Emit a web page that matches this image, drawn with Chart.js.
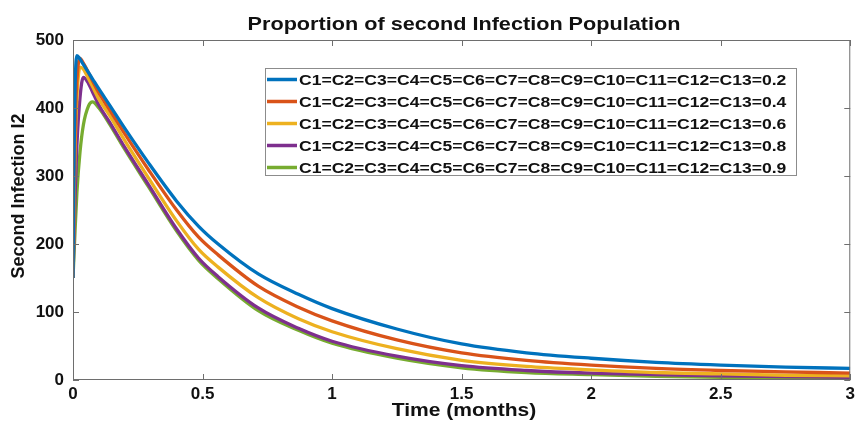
<!DOCTYPE html>
<html>
<head>
<meta charset="utf-8">
<title>Proportion of second Infection Population</title>
<script src="https://cdn.jsdelivr.net/npm/chart.js@4.4.1/dist/chart.umd.min.js"></script>
<style>
  html, body { margin: 0; padding: 0; background: #fff; }
  #wrap { width: 859px; height: 430px; position: relative; }
</style>
</head>
<body>
<div id="wrap"><canvas id="i2-chart"></canvas></div>
<script>
/* ─── data: time grid (months) and I2 per parameter value ─── */
const TIME = [0, 0.004, 0.008, 0.015, 0.027, 0.04, 0.06, 0.075, 0.1, 0.14, 0.2, 0.29, 0.4,
  0.485, 0.56, 0.715, 0.87, 1.0, 1.25, 1.5, 1.75, 2.0, 2.25, 2.5, 2.75, 3.0];

const I2_C02 = [150, 330, 430, 477, 472, 464, 452, 443, 428, 405, 370, 320, 263,
  226, 200, 156, 126, 105, 75, 53, 40, 32, 26, 22, 19, 17];
const I2_C04 = [150, 290, 370, 440, 473, 466, 452, 440, 422, 398, 362, 310, 250,
  210, 184, 138, 107, 87, 59, 40, 29, 22, 17, 14, 12, 10];
const I2_C06 = [150, 260, 340, 415, 460, 457, 443, 432, 413, 390, 352, 298, 234,
  192, 166, 121, 90, 71, 46, 29, 20, 15, 11, 9, 7, 6];
const I2_C08 = [150, 210, 270, 345, 415, 445, 436, 424, 404, 380, 342, 288, 222,
  179, 152, 106, 76, 57, 35, 21, 14, 10, 8, 6, 5, 4];
const I2_C09 = [150, 185, 220, 275, 335, 375, 403, 409, 400, 377, 339, 285, 219,
  176, 149, 102, 73, 54, 32, 18, 11, 8, 5.5, 4, 3, 2];

const C_VALUES = ['0.2', '0.4', '0.6', '0.8', '0.9'];
const SERIES = [I2_C02, I2_C04, I2_C06, I2_C08, I2_C09];
const COLORS = ['#0072BD', '#D95319', '#EDB120', '#7E2F8E', '#77AC30'];

const X_TICK_STEP = 0.5;
const Y_TICK_STEP = 100;

const FONT = "'Liberation Sans', Arial, Helvetica, sans-serif";
const AXIS_GREY = '#6e6e6e';
const SX = 1.17; // horizontal stretch of the lettering

function legendLabel(c) {
  const parts = [];
  for (let i = 1; i <= 13; i++) parts.push('C' + i);
  return parts.join('=') + '=' + c;
}

function stretchText(ctx, text, x, y, align) {
  ctx.save();
  ctx.translate(x, y);
  ctx.scale(SX, 1);
  ctx.textAlign = align;
  ctx.fillText(text, 0, 0);
  ctx.restore();
}

/* ─── frame, inward ticks, titles and legend ─── */
const matlabFrame = {
  id: 'matlabFrame',
  afterDatasetsDraw(chart) {
    const { ctx, chartArea: a, scales: { x, y } } = chart;
    ctx.save();
    ctx.strokeStyle = AXIS_GREY;
    ctx.lineWidth = 1;
    ctx.strokeRect(a.left + 0.5, a.top + 0.5, a.right - a.left - 1, a.bottom - a.top - 1);

    ctx.beginPath();
    x.ticks.forEach(t => {
      const px = Math.round(x.getPixelForValue(t.value)) + 0.5;
      ctx.moveTo(px, a.bottom); ctx.lineTo(px, a.bottom - 6);
      ctx.moveTo(px, a.top); ctx.lineTo(px, a.top + 6);
    });
    y.ticks.forEach(t => {
      const py = Math.round(y.getPixelForValue(t.value)) + 0.5;
      ctx.moveTo(a.left, py); ctx.lineTo(a.left + 6, py);
      ctx.moveTo(a.right, py); ctx.lineTo(a.right - 6, py);
    });
    ctx.stroke();

    // title and axis labels
    ctx.fillStyle = '#111';
    ctx.textBaseline = 'alphabetic';
    ctx.font = `bold 18.5px ${FONT}`;
    stretchText(ctx, 'Proportion of second Infection Population', 464, 30, 'center');
    ctx.font = `bold 18px ${FONT}`;
    stretchText(ctx, 'Time (months)', 464, 416, 'center');

    ctx.save();
    ctx.translate(19, 196);
    ctx.rotate(-Math.PI / 2);
    ctx.font = `bold 18px ${FONT}`;
    ctx.textAlign = 'center';
    ctx.textBaseline = 'middle';
    ctx.fillText('Second Infection I2', 0, 0);
    ctx.restore();

    // legend box
    const box = { left: 265, top: 68, right: 797, bottom: 176 };
    ctx.fillStyle = '#fff';
    ctx.fillRect(box.left, box.top, box.right - box.left, box.bottom - box.top);
    ctx.strokeStyle = '#8c8c8c';
    ctx.strokeRect(box.left + 0.5, box.top + 0.5, box.right - box.left - 1, box.bottom - box.top - 1);

    ctx.font = `bold 15px ${FONT}`;
    ctx.textBaseline = 'middle';
    chart.data.datasets.forEach((ds, i) => {
      const cy = 79.5 + i * 22;
      ctx.strokeStyle = ds.borderColor;
      ctx.lineWidth = 3.5;
      ctx.beginPath();
      ctx.moveTo(267, cy); ctx.lineTo(297, cy);
      ctx.stroke();
      ctx.fillStyle = '#111';
      stretchText(ctx, ds.label, 299, cy + 1, 'left');
    });
    ctx.restore();
  },
};

const datasets = SERIES.map((vals, i) => ({
  label: legendLabel(C_VALUES[i]),
  data: TIME.map((t, k) => ({ x: t, y: vals[k] })),
  borderColor: COLORS[i],
  backgroundColor: COLORS[i],
  borderWidth: 3.3,
  pointRadius: 0,
  cubicInterpolationMode: 'monotone',
  fill: false,
}));

const tickFont = { family: FONT, size: 17, weight: 'bold' };

new Chart(document.getElementById('i2-chart'), {
  type: 'line',
  data: { datasets },
  options: {
    responsive: true,
    maintainAspectRatio: false,
    animation: false,
    layout: { padding: { top: 40, right: 4, left: 0, bottom: 0 } },
    plugins: {
      legend: { display: false },
      title: { display: false },
      tooltip: { enabled: false },
    },
    scales: {
      x: {
        type: 'linear',
        min: 0,
        max: 3,
        grid: { display: false, drawTicks: false },
        border: { display: false },
        ticks: {
          stepSize: X_TICK_STEP,
          padding: 4,
          color: '#111',
          font: tickFont,
          maxRotation: 0,
          callback: (v) => String(v),
        },
        afterFit: (s) => { s.height = 50; },
      },
      y: {
        min: 0,
        max: 500,
        grid: { display: false, drawTicks: false },
        border: { display: false },
        ticks: {
          stepSize: Y_TICK_STEP,
          padding: 9,
          color: '#111',
          font: tickFont,
          callback: (v) => String(v),
        },
        afterFit: (s) => { s.width = 73; },
      },
    },
  },
  plugins: [matlabFrame],
});
</script>
</body>
</html>
